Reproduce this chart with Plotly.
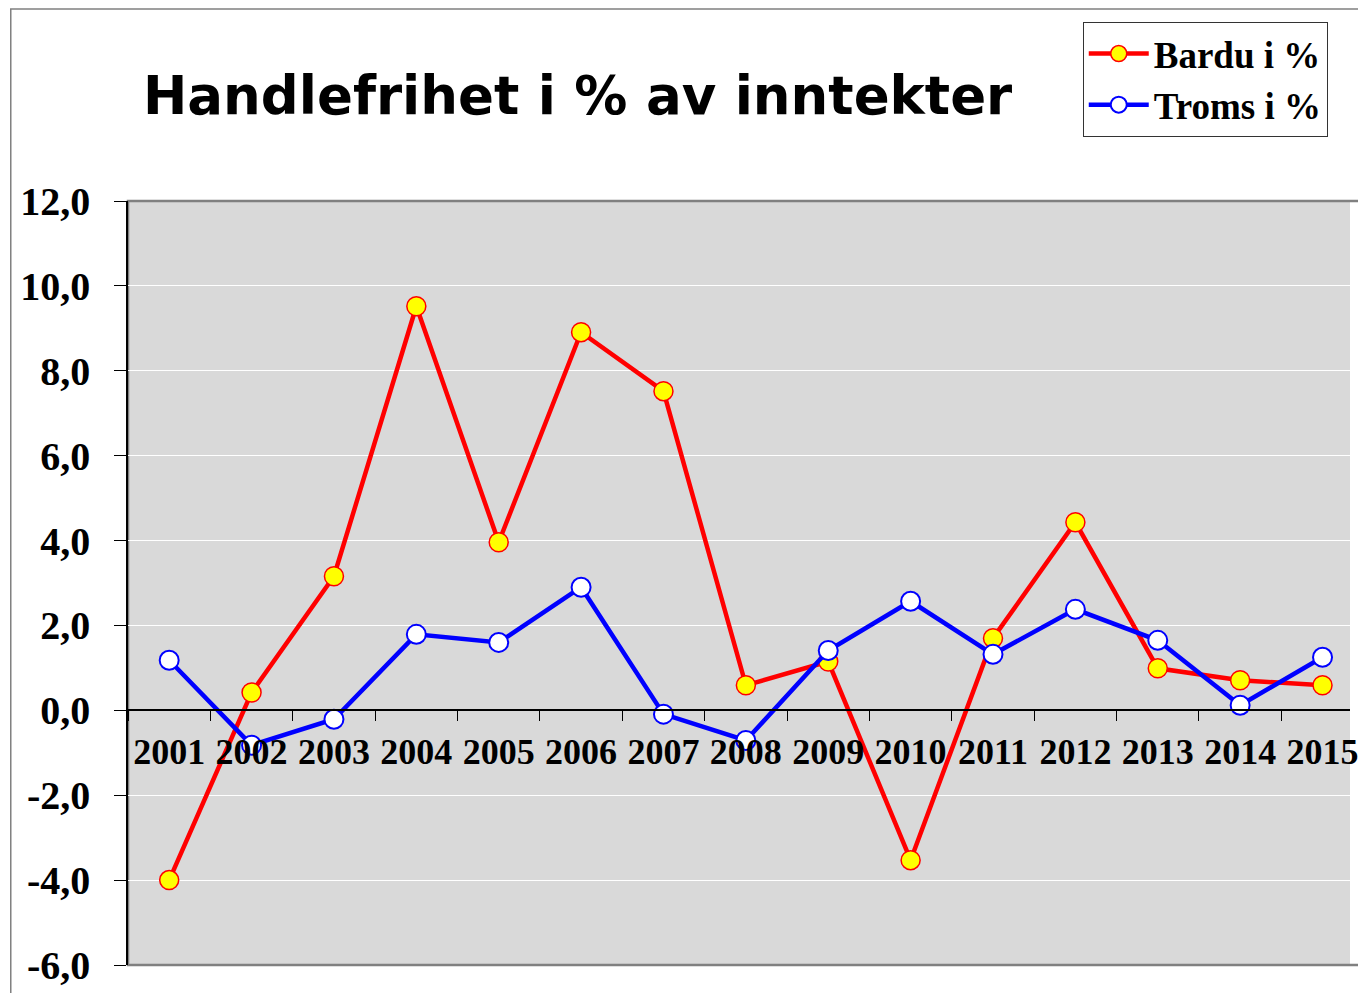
import plotly.graph_objects as go

years = [str(y) for y in range(2001, 2016)]
bardu = [-4.0, 0.42, 3.16, 9.52, 3.96, 8.91, 7.52, 0.59, 1.15, -3.53, 1.70, 4.43, 0.99, 0.71, 0.59]
troms = [1.18, -0.82, -0.21, 1.79, 1.60, 2.90, -0.09, -0.71, 1.41, 2.57, 1.32, 2.38, 1.65, 0.12, 1.25]
y_ticks = [-6, -4, -2, 0, 2, 4, 6, 8, 10, 12]
y_tick_labels = ["-6,0", "-4,0", "-2,0", "0,0", "2,0", "4,0", "6,0", "8,0", "10,0", "12,0"]

W, H = 1350, 985
L, R, T, B = 120, 0, 193, 28
pw, ph = W - L - R, H - T - B

def px(x):
    return (x - L) / pw

def py(y):
    return (H - B - y) / ph

fig = go.Figure()
fig.add_trace(go.Scatter(
    x=years, y=bardu, name="Bardu i %", mode="lines+markers",
    line=dict(color="#ff0000", width=4.5),
    marker=dict(symbol="circle", size=19, color="#ffff00", line=dict(color="#ff0000", width=1.5)),
))
fig.add_trace(go.Scatter(
    x=years, y=troms, name="Troms i %", mode="lines+markers",
    line=dict(color="#0000ff", width=4.5),
    marker=dict(symbol="circle", size=19, color="#ffffff", line=dict(color="#0000ff", width=2)),
))

fig.update_layout(
    width=W, height=H,
    margin=dict(l=L, r=R, t=T, b=B, pad=0),
    paper_bgcolor="white",
    plot_bgcolor="#d9d9d9",
    showlegend=True,
    legend=dict(
        x=px(1081), y=py(14), xanchor="left", yanchor="top",
        bordercolor="#333333", borderwidth=1, bgcolor="white",
        font=dict(family="Liberation Serif", size=37, color="black", weight="bold"),
        itemwidth=60, tracegroupgap=0,
    ),
    annotations=[dict(
        text="Handlefrihet i % av inntekter", xref="paper", yref="paper",
        x=px(572), y=py(87), xanchor="center", yanchor="middle", showarrow=False,
        font=dict(family="Comic Sans MS, DejaVu Sans", size=53, color="black", weight="bold"),
    )],
    shapes=[
        dict(type="rect", xref="paper", yref="paper", x0=px(2), x1=1.2, y0=-0.3, y1=py(1),
             line=dict(color="#808080", width=1.5), fillcolor="rgba(0,0,0,0)", layer="below"),
        dict(type="rect", xref="paper", yref="paper", x0=0, x1=1.01, y0=0, y1=1,
             line=dict(color="#808080", width=2.5), fillcolor="rgba(0,0,0,0)", layer="below"),
    ],
    xaxis=dict(
        type="category", range=[-0.5, -0.5 + pw / 82.92],
        anchor="free", position=6 / 18,
        showline=True, linecolor="black", linewidth=1.5,
        ticks="outside", tickson="boundaries", ticklen=10, tickcolor="black", tickwidth=1,
        showgrid=False, ticklabelstandoff=10,
        tickfont=dict(family="Liberation Serif", size=36, color="black", weight="bold"),
    ),
    yaxis=dict(
        range=[-6, 12], tickvals=y_ticks, ticktext=y_tick_labels,
        showline=True, linecolor="black", linewidth=1.5,
        ticks="outside", ticklen=12, tickcolor="black", tickwidth=1,
        showgrid=True, gridcolor="white", gridwidth=1, zeroline=False,
        ticklabelstandoff=16,
        tickfont=dict(family="Liberation Serif", size=40, color="black", weight="bold"),
    ),
)

fig.write_html("out.html")
